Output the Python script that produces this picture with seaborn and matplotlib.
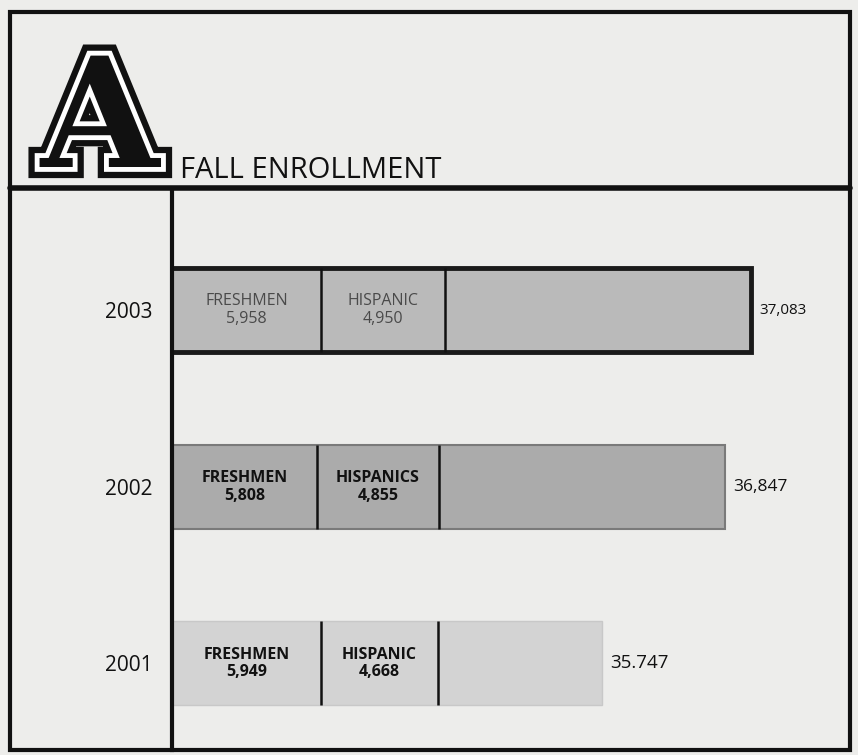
import numpy as np
import pandas as pd
import matplotlib
matplotlib.use('Agg')
import matplotlib.pyplot as plt
import matplotlib.patheffects as pe
from matplotlib.patches import Rectangle
from matplotlib.lines import Line2D
import seaborn as sns

years = ['2003', '2002', '2001']
totals = [37083, 36847, 35747]
total_labels = ['37,083', '36,847', '35.747']
freshmen = [5958, 5808, 5949]
hispanic = [4950, 4855, 4668]
hispanic_names = ['HISPANIC', 'HISPANICS', 'HISPANIC']

bar_colors = ['#bababa', '#ababab', '#d3d3d3']
edge_colors = ['#1a1a1a', '#7a7a7a', '#c8c8c8']
edge_widths = [3.5, 1.5, 1.0]

sns.set_theme(style='white')
plt.rcParams['font.family'] = ['Open Sans', 'DejaVu Sans']

paper = '#ededeb'
W, H = 858, 755
fig = plt.figure(figsize=(W / 100, H / 100), dpi=100, facecolor=paper)

# main axis: total enrollment (truncated scale, like the original graphic)
ax = fig.add_axes([172 / W, 5 / H, 678 / W, 560 / H])
ax.set_facecolor('none')

df = pd.DataFrame({'year': years, 'total': totals})
sns.barplot(data=df, x='total', y='year', hue='year', palette=bar_colors,
            legend=False, orient='h', width=0.475, saturation=1, ax=ax)
for patch, ec, lw in zip(ax.patches, edge_colors, edge_widths):
    patch.set_edgecolor(ec)
    patch.set_linewidth(lw)

ax.set_xlim(31900, 37970)
ax.set_ylim(2.49, -0.68)

label_sizes = [11, 12.5, 13.5]
for c, lab, fs in zip(ax.containers, total_labels, label_sizes):
    ax.bar_label(c, labels=[lab], padding=6, fontsize=fs, color='#111')

ax.set_xticks([])
ax.set_xlabel('')
ax.set_ylabel('')
ax.tick_params(axis='y', length=0, pad=14, labelsize=15, labelcolor='#111')
for s in ['top', 'right', 'bottom']:
    ax.spines[s].set_visible(False)
ax.spines['left'].set_color('#111')
ax.spines['left'].set_linewidth(3)

# second scale for the freshmen / hispanic segments inside the bars
ax2 = ax.twiny()
ax2.set_xlim(0, 27100)
ax2.set_xticks([])
for s in ax2.spines.values():
    s.set_visible(False)

pos = np.arange(len(years))
h = 0.475
cum = np.add(freshmen, hispanic)
ax2.vlines(freshmen, pos - h / 2, pos + h / 2, color='#111', lw=1.8)
ax2.vlines(cum, pos - h / 2, pos + h / 2, color='#111', lw=1.8)

for i in range(len(years)):
    col = '#4a4a4a' if i == 0 else '#111'
    wt = 'normal' if i == 0 else 'bold'
    ax2.text(freshmen[i] / 2, pos[i], f'FRESHMEN\n{freshmen[i]:,}', ha='center', va='center',
             fontsize=11.5, fontweight=wt, color=col, linespacing=1.15)
    ax2.text(freshmen[i] + hispanic[i] / 2, pos[i], f'{hispanic_names[i]}\n{hispanic[i]:,}',
             ha='center', va='center', fontsize=11.5, fontweight=wt, color=col, linespacing=1.15)

# frame and header
fig.add_artist(Rectangle((10 / W, 1 - 750 / H), 840 / W, 738 / H, fill=False,
                         lw=3, edgecolor='#111', transform=fig.transFigure))
fig.add_artist(Line2D([10 / W, 850 / W], [1 - 188 / H] * 2, lw=4, color='#111',
                      transform=fig.transFigure))

fig.text(100 / W, 1 - 167 / H, 'A', family='DejaVu Serif', fontweight='bold', fontsize=110,
         ha='center', va='baseline', color='#111',
         path_effects=[pe.Stroke(linewidth=16, foreground='#111', joinstyle='miter'),
                       pe.Stroke(linewidth=7, foreground='white', joinstyle='miter'),
                       pe.Normal()])
fig.text(180 / W, 1 - 178 / H, 'FALL ENROLLMENT', fontsize=21, ha='left', va='baseline',
         color='#111')

fig.savefig('out.png', dpi=100, facecolor=paper)
